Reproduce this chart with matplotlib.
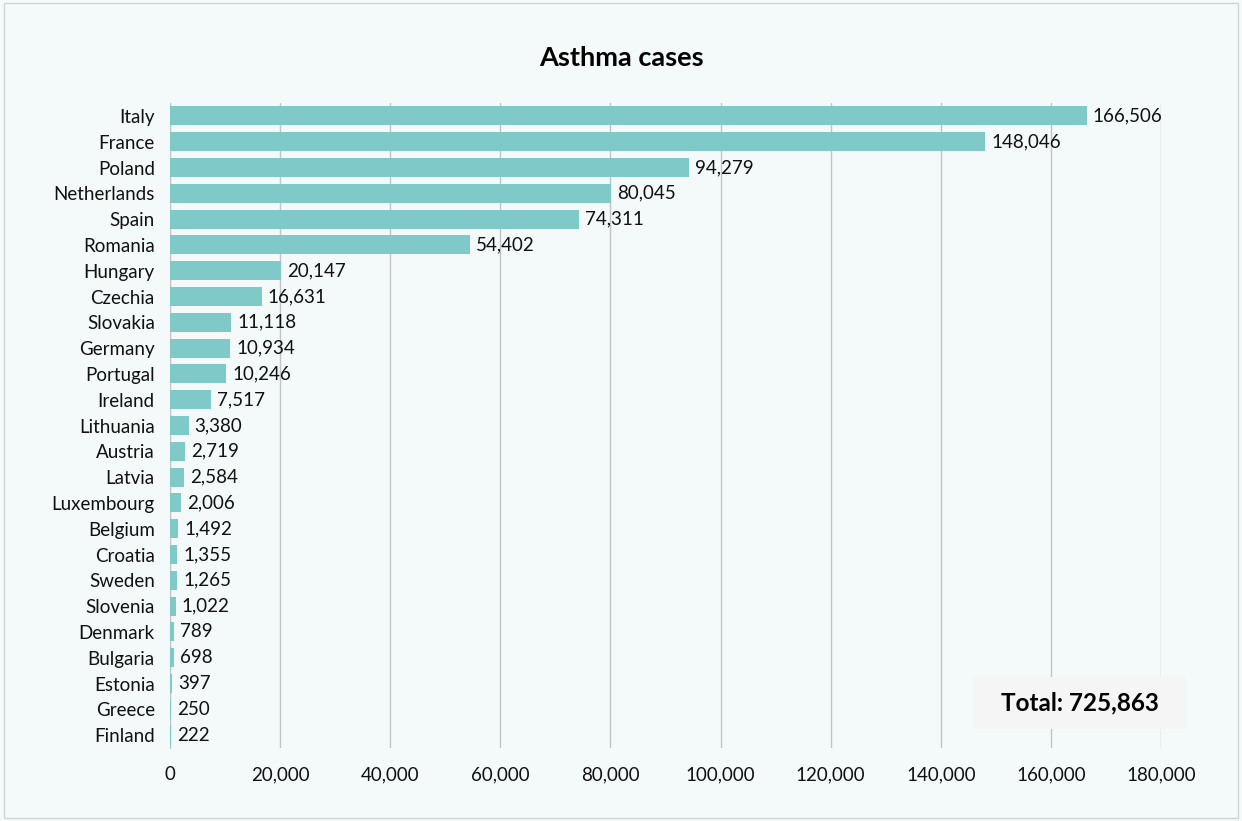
import matplotlib.pyplot as plt
from matplotlib.patches import Rectangle

plt.rcParams['font.family'] = ['Lato', 'DejaVu Sans']

countries = ["Italy", "France", "Poland", "Netherlands", "Spain", "Romania",
             "Hungary", "Czechia", "Slovakia", "Germany", "Portugal", "Ireland",
             "Lithuania", "Austria", "Latvia", "Luxembourg", "Belgium", "Croatia",
             "Sweden", "Slovenia", "Denmark", "Bulgaria", "Estonia", "Greece",
             "Finland"]
cases = [166506, 148046, 94279, 80045, 74311, 54402, 20147, 16631, 11118,
         10934, 10246, 7517, 3380, 2719, 2584, 2006, 1492, 1355, 1265, 1022,
         789, 698, 397, 250, 222]
total_cases = 725863
xticks = list(range(0, 180001, 20000))

bg = "#f4f9f9"
bar_color = "#80c9c9"

fig = plt.figure(figsize=(12.42, 8.21), dpi=100, facecolor=bg)
fig.patches.append(Rectangle((0.003, 0.004), 0.994, 0.992, transform=fig.transFigure,
                             facecolor="none", edgecolor="#d0d4d4", linewidth=1))
ax = fig.add_axes([0.1369, 0.0889, 0.7979, 0.7856])
ax.set_facecolor(bg)

y = list(range(len(countries)))
ax.barh(y, cases, height=0.74, color=bar_color, zorder=3)
ax.set_yticks(y)
ax.set_yticklabels(countries, fontsize=13.5)
ax.set_ylim(len(countries) - 0.5, -0.5)

ax.set_xlim(0, 180000)
ax.set_xticks(xticks)
ax.set_xticklabels([f"{t:,}" for t in xticks], fontsize=13.5)
ax.grid(axis="x", color="#c4c4c4", linewidth=1, zorder=0)
ax.tick_params(axis="both", length=0, colors="#111111")
ax.tick_params(axis="y", pad=11)
ax.tick_params(axis="x", pad=13)
for s in ["top", "right", "bottom"]:
    ax.spines[s].set_visible(False)
ax.spines["left"].set_color("#c4c4c4")

for yi, v in zip(y, cases):
    ax.text(v + 1100, yi, f"{v:,}", va="center", ha="left", fontsize=13.5,
            color="#111111", zorder=4)

fig.text(0.5, 0.929, "Asthma cases", ha="center", va="center", fontsize=19.5,
         fontweight="bold")

# total box in the lower right corner
fig.patches.append(Rectangle((0.7834, 0.1121), 0.1715, 0.0633, transform=fig.transFigure,
                             facecolor="#f5f5f5", edgecolor="none", zorder=5))
fig.text(0.8696, 0.1437, f"Total: {total_cases:,}", ha="center", va="center",
         fontsize=17.5, fontweight="bold", zorder=6)

fig.savefig("out.png", dpi=100, facecolor=bg)
